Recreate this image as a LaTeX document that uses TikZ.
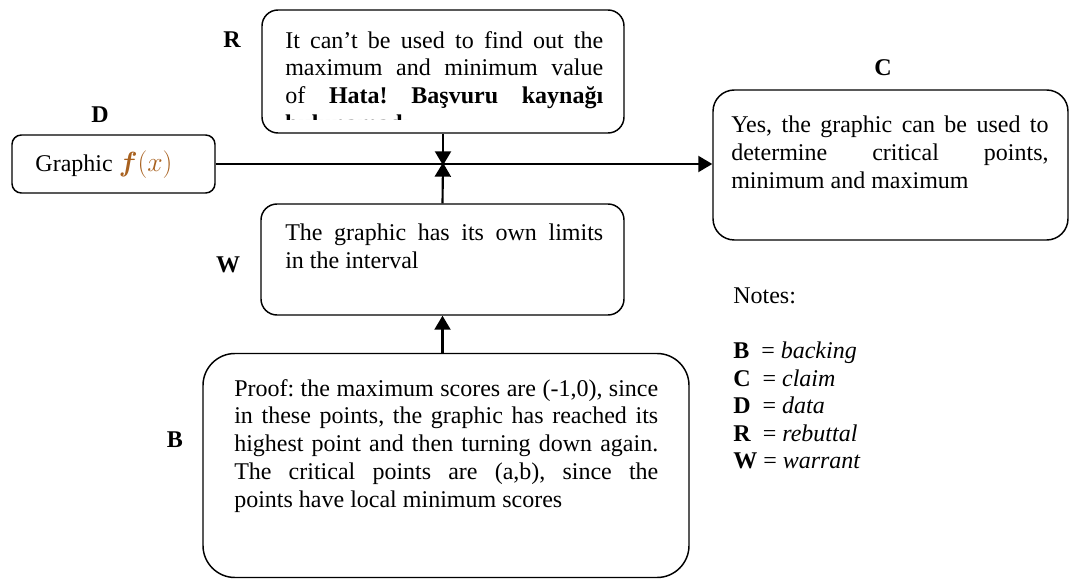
\documentclass[tikz,border=0pt]{standalone}
\usepackage{fontspec}
\usepackage{bm}
\setmainfont{Liberation Serif}
\usetikzlibrary{arrows.meta}
\definecolor{fxorange}{rgb}{0.66,0.38,0.12}
\frenchspacing

\begin{document}
\begin{tikzpicture}[x=0.75pt,y=0.75pt,yscale=-1,xscale=1,
  box/.style={draw, line width=1.1pt, inner sep=0pt},
  txt/.style={inner sep=0pt, anchor=north west, align=justify, font=\fontsize{18}{20.8}\selectfont},
  tag/.style={font=\fontsize{18}{20.8}\selectfont\bfseries},
  link/.style={line width=1.6pt, -{Triangle[length=10.5pt,width=12pt]}}]
\useasboundingbox (0,0) rectangle (1070,580);

%Shape: Rounded Rectangle (rebuttal)
\node [box, rounded corners=12pt, minimum width=271.5pt, minimum height=92.25pt] (rebuttal) at (443,71.5) {};
%Shape: Rounded Rectangle (data)
\node [box, rounded corners=7pt, minimum width=152.25pt, minimum height=43.5pt] (data) at (113.5,164) {};
%Shape: Rounded Rectangle (claim)
\node [box, rounded corners=16pt, minimum width=266.25pt, minimum height=112.5pt] (claim) at (890.5,165) {};
%Shape: Rounded Rectangle (warrant)
\node [box, rounded corners=12pt, minimum width=272.25pt, minimum height=83.25pt] (warrant) at (442.5,259.5) {};
%Shape: Rounded Rectangle (backing)
\node [box, rounded corners=24pt, minimum width=364.5pt, minimum height=168pt] (backing) at (446,465.5) {};

% Text Node (rebuttal, cut off at the bottom)
\begin{scope}
\clip (262,10) rectangle (624,120);
\node [txt, text width=238.5pt] (rebuttaltext) at (285,31) {It can’t be used to find out the\linebreak maximum and minimum value\linebreak of \textbf{Hata! Başvuru kaynağı}\linebreak \textbf{bulunamadı.}};
\end{scope}
% Text Node
\node [font=\fontsize{18}{20.8}\selectfont] (datatext) at (104,165) {Graphic \textcolor{fxorange}{\fontsize{20}{22}\selectfont$\bm{f}(x)$}};
% Text Node
\node [txt, text width=238pt] (claimtext) at (731,116) {Yes, the graphic can be used to\linebreak determine critical points,\linebreak minimum and maximum};
% Text Node
\node [txt, text width=238.5pt] (warranttext) at (285,224) {The graphic has its own limits\linebreak in the interval};
% Text Node
\node [txt, text width=318pt] (backingtext) at (234,379) {Proof: the maximum scores are (-1,0), since\linebreak in these points, the graphic has reached its\linebreak highest point and then turning down again.\linebreak The critical points are (a,b), since the\linebreak points have local minimum scores};

% Labels
\node [tag] (rlabel) at (232,40) {R};
\node [tag] (dlabel) at (100,115) {D};
\node [tag] (clabel) at (883,68) {C};
\node [tag] (wlabel) at (228,265) {W};
\node [tag] (blabel) at (175,440) {B};

% Notes
\node [anchor=north west, inner sep=0pt, align=left, font=\fontsize{18}{20.6}\selectfont] (notes) at (733,288) {Notes:\\[20.6pt]
\textbf{B}\ \ = \textit{backing}\\
\textbf{C}\ \ = \textit{claim}\\
\textbf{D}\ \ = \textit{data}\\
\textbf{R}\ \ = \textit{rebuttal}\\
\textbf{W} = \textit{warrant}};

% Connectors
\coordinate (cross) at (443,164);
\draw [link] (data.east) -- (data.east -| claim.west);
\draw [link] (rebuttal.south) -- ([yshift=1pt]cross);
\draw [link] (warrant.north) -- ([yshift=-1pt]cross);
\draw [link] (backing.north -| warrant.south) -- (warrant.south);

\end{tikzpicture}
\end{document}
